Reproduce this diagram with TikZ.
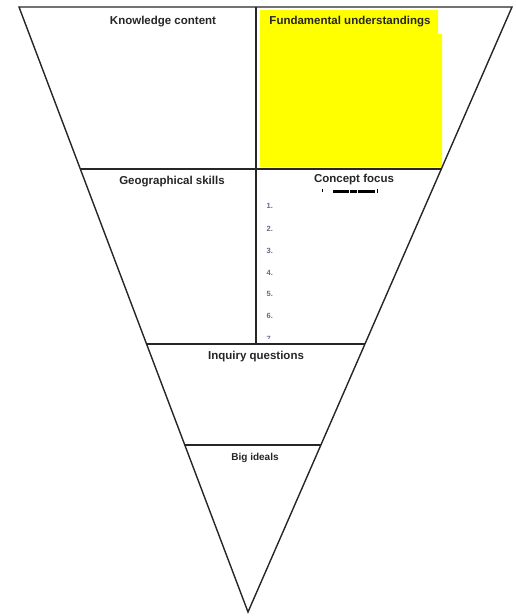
\documentclass[tikz,border=0pt]{standalone}
\usepackage{fontspec}
\setmainfont{Liberation Sans}
\definecolor{hiyellow}{RGB}{255,255,0}
\begin{document}
\begin{tikzpicture}[x=1pt,y=-1pt,
  edge/.style={line width=1.4pt,black!85},
  sep/.style={line width=1.6pt,black!85},
  head/.style={font=\fontsize{11.5}{13}\selectfont\bfseries,text=black!85,inner sep=0pt,anchor=base},
  num/.style={font=\fontsize{7.5}{9}\selectfont\bfseries,text={rgb,255:red,95;green,105;blue,140},inner sep=0pt,anchor=base west}]
\useasboundingbox (0,0) rectangle (516,616);
% yellow highlight
\fill[hiyellow] (260,10) -- (438,10) -- (438,34) -- (442,34) -- (442,167) -- (260,167) -- cycle;
% corners
\coordinate (TL) at (19,7);
\coordinate (TR) at (512,7);
\coordinate (AP) at (248,612);
\coordinate (A1) at (80.3,169);
\coordinate (B1) at (441.3,169);
\coordinate (A2) at (146.6,344);
\coordinate (B2) at (364.8,344);
\coordinate (A3) at (184.8,445);
\coordinate (B3) at (321.2,445);
\coordinate (V0) at (256,7);
\coordinate (V1) at (256,344);
\draw[edge,line join=miter] (TL) -- (TR) -- (AP) -- cycle;
\draw[sep] (A1) -- (B1);
\draw[sep] (A2) -- (B2);
\draw[sep] (A3) -- (B3);
\draw[line width=1.9pt,black!85] (V0) -- (V1);
% headings
\node[head] (kc) at (163,24) {Knowledge content};
\node[head] (fu) at (350,24) {Fundamental understandings};
\node[head] (gs) at (172,184) {Geographical skills};
\node[head] (cf) at (354,182) {Concept focus};
\node[head] (iq) at (256,359) {Inquiry questions};
\node[head,font=\fontsize{10}{12}\selectfont\bfseries] (bi) at (255,460) {Big ideals};
% garbled sub-line under Concept focus
\fill[black] (321.5,189) rectangle (323,192);
\fill[black] (333,189.5) rectangle (349,192.5);
\fill[black] (350,189.5) rectangle (357,192.5);
\fill[black] (358,189.5) rectangle (375,192.5);
\fill[black] (376.5,188.5) rectangle (378,192.5);
% numbered list
\node[num] (n1) at (266.5,208.5) {1.};
\node[num] (n2) at (266.5,231.5) {2.};
\node[num] (n3) at (266.5,253.5) {3.};
\node[num] (n4) at (266.5,275.5) {4.};
\node[num] (n5) at (266.5,296.5) {5.};
\node[num] (n6) at (266.5,318.5) {6.};
\begin{scope}
\clip (256,330) rectangle (300,338.5);
\node[num] (n7) at (266.5,341) {7.};
\end{scope}
\end{tikzpicture}
\end{document}
